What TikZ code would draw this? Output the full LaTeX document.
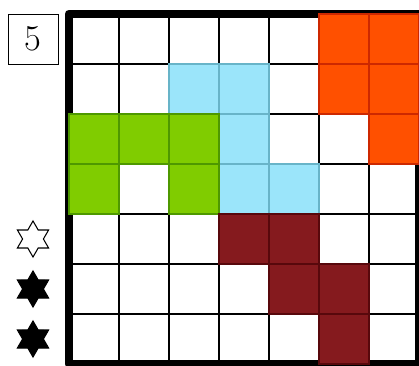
\documentclass[tikz,border=0pt]{standalone}
\usepackage{tikz}
\usetikzlibrary{shapes.geometric}
\definecolor{pOrange}{RGB}{255,80,0}
\definecolor{pOrangeLine}{RGB}{205,40,0}
\definecolor{pBlue}{RGB}{155,229,250}
\definecolor{pBlueLine}{RGB}{104,180,200}
\definecolor{pGreen}{RGB}{128,204,0}
\definecolor{pGreenLine}{RGB}{78,152,0}
\definecolor{pRed}{RGB}{133,26,30}
\definecolor{pRedLine}{RGB}{88,8,12}
\tikzset{
  gridline/.style={draw=black, line width=1.1pt},
  frame/.style={draw=black, line width=5.1pt, line join=round},
  cellO/.style={fill=pOrange, draw=pOrangeLine, line width=1.1pt},
  cellB/.style={fill=pBlue, draw=pBlueLine, line width=1.1pt},
  cellG/.style={fill=pGreen, draw=pGreenLine, line width=1.1pt},
  cellR/.style={fill=pRed, draw=pRedLine, line width=1.1pt},
  clue/.style={rectangle, draw=black, line width=0.5pt, minimum size=1cm,
               inner sep=0pt, font=\huge},
  hexstar/.style={star, star points=6, star point ratio=1.73, draw=black,
                  line width=0.6pt, minimum size=0.72cm, inner sep=0pt},
}
\begin{document}
\begin{tikzpicture}
  \useasboundingbox (-1.38,-0.02) rectangle (7,7.28);
  % grid
  \foreach \i in {1,...,6} {
    \draw[gridline] (\i,0) -- (\i,7);
    \draw[gridline] (0,\i) -- (7,\i);
  }
  \draw[frame] (0,0) rectangle (7,7);
  % pieces
  \foreach \x/\y in {5/6,6/6,5/5,6/5,6/4}
    \draw[cellO] (\x,\y) rectangle ++(1,1);
  \foreach \x/\y in {2/5,3/5,3/4,3/3,4/3}
    \draw[cellB] (\x,\y) rectangle ++(1,1);
  \foreach \x/\y in {0/4,1/4,2/4,0/3,2/3}
    \draw[cellG] (\x,\y) rectangle ++(1,1);
  \foreach \x/\y in {3/2,4/2,4/1,5/1,5/0}
    \draw[cellR] (\x,\y) rectangle ++(1,1);
  % clue and stars
  \node[clue] (count) at (-0.72,6.5) {5};
  \node[hexstar, fill=white] (starA) at (-0.72,2.5) {};
  \node[hexstar, fill=black] (starB) at (-0.72,1.5) {};
  \node[hexstar, fill=black] (starC) at (-0.72,0.5) {};
\end{tikzpicture}
\end{document}
